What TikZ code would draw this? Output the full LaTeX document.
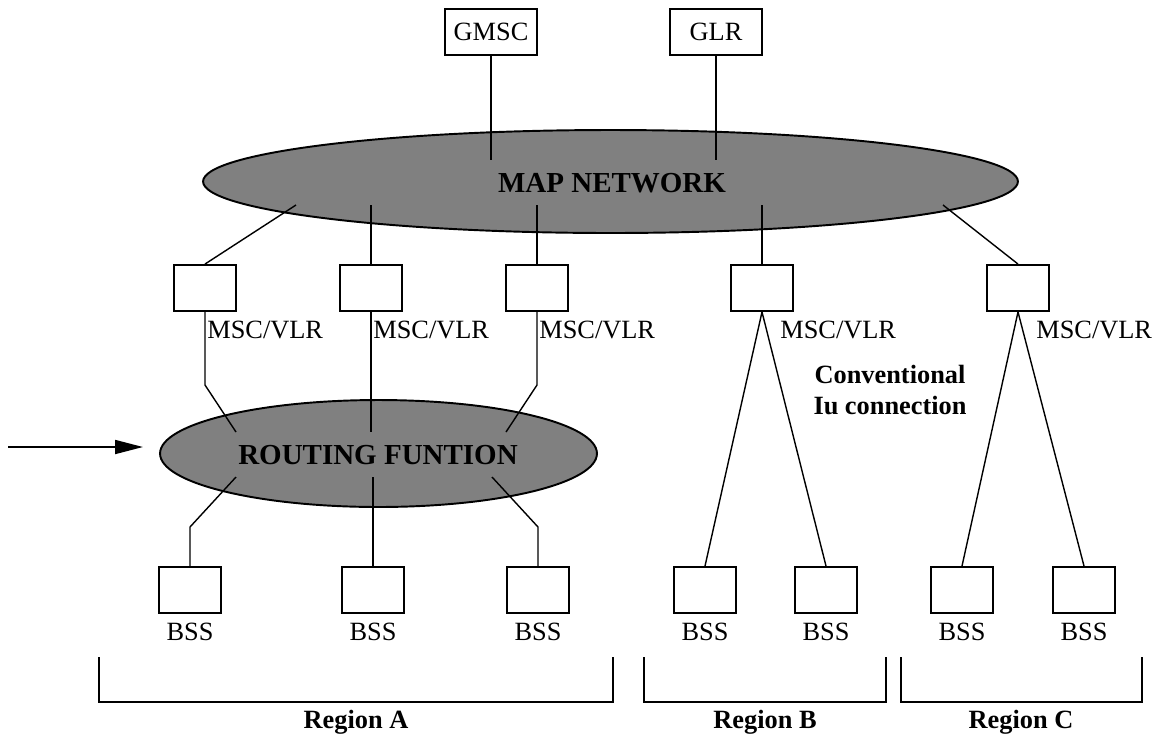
\documentclass[tikz,border=0pt]{standalone}
\usepackage{fontspec}
\setmainfont{Liberation Serif}
\usetikzlibrary{shapes.geometric,arrows.meta}
\definecolor{ellgray}{RGB}{128,128,128}
\tikzset{
  box/.style={draw, line width=1.1pt, minimum width=1.24cm, minimum height=0.92cm, inner sep=0pt},
  cloud/.style={draw, line width=1.1pt, fill=ellgray, ellipse, inner sep=0pt, font=\fontsize{16.5}{18}\selectfont\bfseries},
  lbl/.style={font=\fontsize{15}{17}\selectfont, inner sep=0pt},
  blbl/.style={font=\fontsize{15}{17}\selectfont\bfseries, inner sep=0pt},
  conn/.style={line width=0.8pt},
  brk/.style={line width=1pt}
}
\begin{document}
\begin{tikzpicture}[x=0.02cm,y=-0.02cm]
\useasboundingbox (0,0) rectangle (1156,735);
% top boxes
\node[box, minimum width=1.84cm] (gmsc) at (491,32) {\fontsize{15}{17}\selectfont GMSC};
\node[box, minimum width=1.84cm] (glr) at (716,32) {\fontsize{15}{17}\selectfont GLR};
% map network
\node[cloud, minimum width=16.3cm, minimum height=2.06cm] (map) at (610.5,181.5) {};
\node[inner sep=0pt, font=\fontsize{16.5}{18}\selectfont\bfseries] (maptext) at (612,183) {MAP NETWORK};
\coordinate (mg) at (491,160);
\coordinate (ml) at (716,160);
\draw[conn] (gmsc.south) -- (mg);
\draw[conn] (glr.south) -- (ml);
% MSC/VLR boxes
\node[box] (m1) at (205,288) {};
\node[box] (m2) at (371,288) {};
\node[box] (m3) at (537,288) {};
\node[box] (m4) at (762,288) {};
\node[box] (m5) at (1018,288) {};
\coordinate (c1) at (296,205);
\coordinate (c2) at (371,205);
\coordinate (c3) at (537,205);
\coordinate (c4) at (762,205);
\coordinate (c5) at (943,205);
\draw[conn] (c1) -- (m1.north);
\draw[conn] (c2) -- (m2.north);
\draw[conn] (c3) -- (m3.north);
\draw[conn] (c4) -- (m4.north);
\draw[conn] (c5) -- (m5.north);
\node[lbl, anchor=west] (l1) at (207,330) {MSC/VLR};
\node[lbl, anchor=west] (l2) at (373,330) {MSC/VLR};
\node[lbl, anchor=west] (l3) at (539,330) {MSC/VLR};
\node[lbl, anchor=west] (l4) at (780,330) {MSC/VLR};
\node[lbl, anchor=west] (l5) at (1036,330) {MSC/VLR};
% routing function
\node[cloud, minimum width=8.74cm, minimum height=2.14cm] (rf) at (378.5,453.5) {};
\node[inner sep=0pt, font=\fontsize{16.5}{18}\selectfont\bfseries] (rftext) at (378,455) {ROUTING FUNTION};
\coordinate (r1) at (236,432);
\coordinate (r2) at (371,432);
\coordinate (r3) at (506,432);
\draw[conn] (m1.south) -- (205,385) -- (r1);
\draw[conn] (m2.south) -- (r2);
\draw[conn] (m3.south) -- (537,385) -- (r3);
% arrow
\coordinate (as) at (8,447);
\coordinate (ae) at (143,447);
\draw[line width=1pt, -{Triangle[length=0.56cm, width=0.28cm]}] (as) -- (ae);
% BSS boxes
\node[box] (b1) at (190,590) {};
\node[box] (b2) at (373,590) {};
\node[box] (b3) at (538,590) {};
\node[box] (b4) at (705,590) {};
\node[box] (b5) at (826,590) {};
\node[box] (b6) at (962,590) {};
\node[box] (b7) at (1084,590) {};
\coordinate (d1) at (236,477);
\coordinate (d2) at (373,477);
\coordinate (d3) at (492,477);
\draw[conn] (d1) -- (190,527) -- (b1.north);
\draw[conn] (d2) -- (b2.north);
\draw[conn] (d3) -- (538,527) -- (b3.north);
\draw[conn] (m4.south) -- (b4.north);
\draw[conn] (m4.south) -- (b5.north);
\draw[conn] (m5.south) -- (b6.north);
\draw[conn] (m5.south) -- (b7.north);
\foreach \b in {b1,b2,b3,b4,b5,b6,b7}{
  \node[lbl] at ([yshift=-0.84cm]\b.center) {BSS};
}
% conventional label
\node[blbl, align=center, font=\fontsize{15}{18.2}\selectfont\bfseries] (conv) at (890,390) {Conventional\\Iu connection};
% brackets
\draw[brk] (99,657) -- (99,702) -- (613,702) -- (613,657);
\draw[brk] (644,657) -- (644,702) -- (886,702) -- (886,657);
\draw[brk] (901,657) -- (901,702) -- (1142,702) -- (1142,657);
\node[blbl] (ra) at (356,722) {Region A};
\node[blbl] (rb) at (765,722) {Region B};
\node[blbl] (rc) at (1021,722) {Region C};
\end{tikzpicture}
\end{document}
